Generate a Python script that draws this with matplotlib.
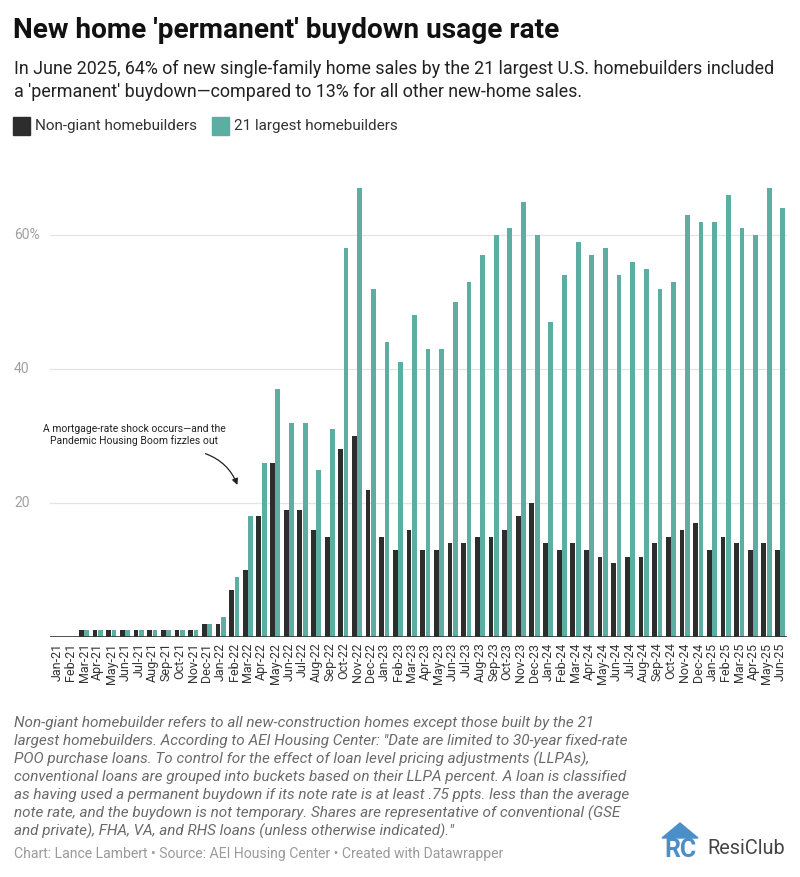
import matplotlib.pyplot as plt
import numpy as np

plt.rcParams['font.family'] = ['Roboto', 'DejaVu Sans']

# data
months = ['Jan-21', 'Feb-21', 'Mar-21', 'Apr-21', 'May-21', 'Jun-21', 'Jul-21', 'Aug-21', 'Sep-21',
          'Oct-21', 'Nov-21', 'Dec-21', 'Jan-22', 'Feb-22', 'Mar-22', 'Apr-22', 'May-22', 'Jun-22',
          'Jul-22', 'Aug-22', 'Sep-22', 'Oct-22', 'Nov-22', 'Dec-22', 'Jan-23', 'Feb-23', 'Mar-23',
          'Apr-23', 'May-23', 'Jun-23', 'Jul-23', 'Aug-23', 'Sep-23', 'Oct-23', 'Nov-23', 'Dec-23',
          'Jan-24', 'Feb-24', 'Mar-24', 'Apr-24', 'May-24', 'Jun-24', 'Jul-24', 'Aug-24', 'Sep-24',
          'Oct-24', 'Nov-24', 'Dec-24', 'Jan-25', 'Feb-25', 'Mar-25', 'Apr-25', 'May-25', 'Jun-25']
non_giant = [0, 0, 1, 1, 1, 1, 1, 1, 1, 1, 1, 2, 2, 7, 10, 18, 26, 19,
             19, 16, 15, 28, 30, 22, 15, 13, 16, 13, 13, 14, 14, 15, 15, 16, 18, 20,
             14, 13, 14, 13, 12, 11, 12, 12, 14, 15, 16, 17, 13, 15, 14, 13, 14, 13]
largest21 = [0, 0, 1, 1, 1, 1, 1, 1, 1, 1, 1, 2, 3, 9, 18, 26, 37, 32,
             32, 25, 31, 58, 67, 52, 44, 41, 48, 43, 43, 50, 53, 57, 60, 61, 65, 60,
             47, 54, 59, 57, 58, 54, 56, 55, 52, 53, 63, 62, 62, 66, 61, 60, 67, 64]
y_ticks = [20, 40, 60]
y_tick_labels = ['20', '40', '60%']

DARK = '#2d2d2d'
TEAL = '#5cada2'
W, H = 800, 877


def fx(px):
    return px / W


def fy(py):
    return 1 - py / H


fig = plt.figure(figsize=(8, 8.77), dpi=100)
ax = fig.add_axes([fx(50), fy(637), fx(737), 469 / H])

x = np.arange(len(months))
ax.bar(x - 0.195, non_giant, width=0.35, color=DARK, zorder=3)
ax.bar(x + 0.195, largest21, width=0.35, color=TEAL, zorder=3)

ax.set_xlim(-0.5, len(months) - 0.5)
ax.set_ylim(0, 70)
ax.set_xticks(x)
ax.set_xticklabels(months, rotation=90, fontsize=9, color='#333333')
ax.tick_params(axis='x', length=0, pad=4)
ax.set_yticks([])
for s in ax.spines.values():
    s.set_visible(False)

# gridlines + labels
trans = ax.get_yaxis_transform()
for v, lab in zip(y_ticks, y_tick_labels):
    ax.axhline(v, color='#e4e4e4', lw=0.9, zorder=1)
    ax.text(-0.049, v, lab, transform=trans, ha='left', va='center', fontsize=10, color='#a0a0a0')
ax.axhline(0, color='#333333', lw=1.2, zorder=4)

# annotation
ax.text(5.65, 30.1, 'A mortgage-rate shock occurs\u2014and the\nPandemic Housing Boom fizzles out',
        ha='center', va='center', fontsize=7.5, color='#222222', linespacing=1.1)
ax.annotate('', xy=(13.3, 22.3), xytext=(10.7, 27.5),
            arrowprops=dict(arrowstyle='-|>', color='#222222', lw=0.9,
                            connectionstyle='arc3,rad=-0.25', mutation_scale=9))

# header
fig.text(fx(13), fy(31), "New home 'permanent' buydown usage rate", fontsize=20.2,
         fontweight='bold', color='#111111', ha='left', va='center')
fig.text(fx(14), fy(69), 'In June 2025, 64% of new single-family home sales by the 21 largest U.S. homebuilders included',
         fontsize=12.9, color='#222222', ha='left', va='center')
fig.text(fx(14), fy(92), "a 'permanent' buydown\u2014compared to 13% for all other new-home sales.",
         fontsize=12.9, color='#222222', ha='left', va='center')

# legend
fig.patches.append(plt.Rectangle((fx(13), fy(135)), fx(17), 18 / H, color=DARK, transform=fig.transFigure))
fig.text(fx(35), fy(126), 'Non-giant homebuilders', fontsize=11, color='#333333', ha='left', va='center')
fig.patches.append(plt.Rectangle((fx(212), fy(135)), fx(17), 18 / H, color=TEAL, transform=fig.transFigure))
fig.text(fx(234), fy(126), '21 largest homebuilders', fontsize=11, color='#333333', ha='left', va='center')

# footnote
notes = [
    'Non-giant homebuilder refers to all new-construction homes except those built by the 21',
    'largest homebuilders. According to AEI Housing Center: "Date are limited to 30-year fixed-rate',
    'POO purchase loans. To control for the effect of loan level pricing adjustments (LLPAs),',
    'conventional loans are grouped into buckets based on their LLPA percent. A loan is classified',
    'as having used a permanent buydown if its note rate is at least .75 ppts. less than the average',
    'note rate, and the buydown is not temporary. Shares are representative of conventional (GSE',
    'and private), FHA, VA, and RHS loans (unless otherwise indicated)."',
]
for i, line in enumerate(notes):
    fig.text(fx(14), fy(723 + 18 * i), line, fontsize=11, style='italic', color='#6a6a6a',
             ha='left', va='center')
fig.text(fx(14), fy(854), 'Chart: Lance Lambert \u2022 Source: AEI Housing Center \u2022 Created with Datawrapper',
         fontsize=10.1, color='#9a9a9a', ha='left', va='center')

# logo
BLUE = '#4a8fc7'
roof = plt.Polygon([(fx(662), fy(838)), (fx(680), fy(823)), (fx(698), fy(838))],
                   closed=True, color=BLUE, transform=fig.transFigure)
fig.patches.append(roof)
fig.text(fx(680), fy(850), 'RC', fontsize=18, fontweight='bold', color=BLUE, ha='center', va='center')
fig.text(fx(707), fy(849), 'ResiClub', fontsize=14.3, color='#444444', ha='left', va='center')

fig.savefig('out.png', dpi=100, facecolor='white')
